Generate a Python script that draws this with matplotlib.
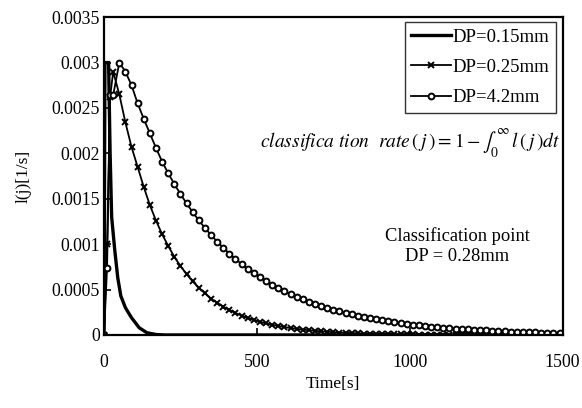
import matplotlib
matplotlib.use("Agg")
import matplotlib.pyplot as plt

plt.rcParams["font.family"] = ["Liberation Serif", "DejaVu Serif"]
plt.rcParams["mathtext.fontset"] = "stix"

# ---- data (values in units of 1e-4 1/s) ----
t_015 = [0, 3, 15, 20, 25, 35, 45, 55, 70, 90, 115, 140, 170, 200, 300, 1500]
l_015 = [0.0, 30.0, 30.0, 20.0, 13.0, 9.4, 6.3, 4.3, 3.0, 1.9, 0.8, 0.25, 0.05, 0.0, 0.0, 0.0]

t_grid = [0, 10, 20, 30] + list(range(50, 1500, 20))

l_025 = [0.0, 10.0, 26.2, 29.0, 26.5, 23.4, 20.7, 18.5, 16.3, 14.3,
         12.6, 11.1, 9.8, 8.6, 7.6, 6.7, 5.9, 5.2, 4.6, 4.0,
         3.55, 3.12, 2.75, 2.42, 2.13, 1.87, 1.65, 1.45, 1.27, 1.12,
         0.99, 0.87, 0.76, 0.67, 0.59, 0.52, 0.46, 0.40, 0.35, 0.31,
         0.27, 0.24, 0.21, 0.19, 0.16, 0.14, 0.13, 0.11, 0.10, 0.09,
         0.08, 0.07, 0.06, 0.05, 0.05, 0.04, 0.04, 0.03, 0.03, 0.03,
         0.02, 0.02, 0.02, 0.02, 0.02, 0.01, 0.01, 0.01, 0.01, 0.01,
         0.01, 0.01, 0.01, 0.01, 0.01, 0.01, 0.01]

l_42 = [0.0, 7.4, 26.4, 26.4, 30.0, 29.0, 27.5, 25.5, 23.8, 22.2,
        20.6, 19.1, 17.8, 16.62, 15.52, 14.49, 13.53, 12.63, 11.79, 11.01,
        10.28, 9.60, 8.96, 8.37, 7.81, 7.29, 6.81, 6.36, 5.94, 5.54,
        5.18, 4.83, 4.51, 4.21, 3.93, 3.67, 3.43, 3.20, 2.99, 2.79,
        2.61, 2.43, 2.27, 2.12, 1.98, 1.85, 1.73, 1.61, 1.50, 1.40,
        1.31, 1.22, 1.14, 1.07, 1.00, 0.93, 0.87, 0.81, 0.76, 0.71,
        0.66, 0.62, 0.58, 0.54, 0.50, 0.47, 0.44, 0.41, 0.38, 0.36,
        0.33, 0.31, 0.29, 0.27, 0.25, 0.24, 0.22]

yticks = [0, 0.0005, 0.001, 0.0015, 0.002, 0.0025, 0.003, 0.0035]
ytick_labels = ["0", "0.0005", "0.001", "0.0015", "0.002", "0.0025", "0.003", "0.0035"]
xticks = [0, 500, 1000, 1500]

scale = 1e-4

fig = plt.figure(figsize=(5.82, 4.08), dpi=100)
ax = fig.add_axes([0.1787, 0.179, 0.788, 0.779])

ax.plot(t_015, [v * scale for v in l_015], color="black", lw=2.4,
        label="DP=0.15mm", solid_joinstyle="miter")
ax.plot(t_grid, [v * scale for v in l_025], color="black", lw=1.3,
        marker="x", ms=5, mew=1.4, label="DP=0.25mm")
ax.plot(t_grid, [v * scale for v in l_42], color="black", lw=1.3,
        marker="o", ms=4.2, mfc="white", mew=1.4, label="DP=4.2mm")

ax.set_xlim(0, 1500)
ax.set_ylim(0, 0.0035)
ax.set_xticks(xticks)
ax.set_yticks(yticks)
ax.set_yticklabels(ytick_labels)
ax.tick_params(direction="in", length=5, width=1.2, labelsize=12.8)
ax.tick_params(axis="x", pad=14)
ax.tick_params(axis="y", pad=3)
for s in ax.spines.values():
    s.set_linewidth(1.6)

ax.set_xlabel("Time[s]", fontsize=12.5, labelpad=3)
ax.set_ylabel("l(j)[1/s]", fontsize=12.5, labelpad=14)

leg = ax.legend(loc="upper right", bbox_to_anchor=(0.985, 0.985), fontsize=13.5,
                frameon=True, fancybox=False, edgecolor="black",
                handlelength=2.1, handletextpad=0.1, borderpad=0.35,
                labelspacing=0.7, borderaxespad=0.0)
leg.get_frame().set_linewidth(1.0)

ax.text(0.995, 0.60, r"$\mathit{classifica\ tion\ \ rate}\,(\,j\,)=1-\int_0^{\infty}\,l\,(\,j\,)dt$",
        transform=ax.transAxes, ha="right", va="center", fontsize=14)
ax.text(0.77, 0.28, "Classification point\nDP = 0.28mm", transform=ax.transAxes,
        ha="center", va="center", fontsize=13.3, linespacing=1.25)

fig.savefig("out.png", dpi=100)
